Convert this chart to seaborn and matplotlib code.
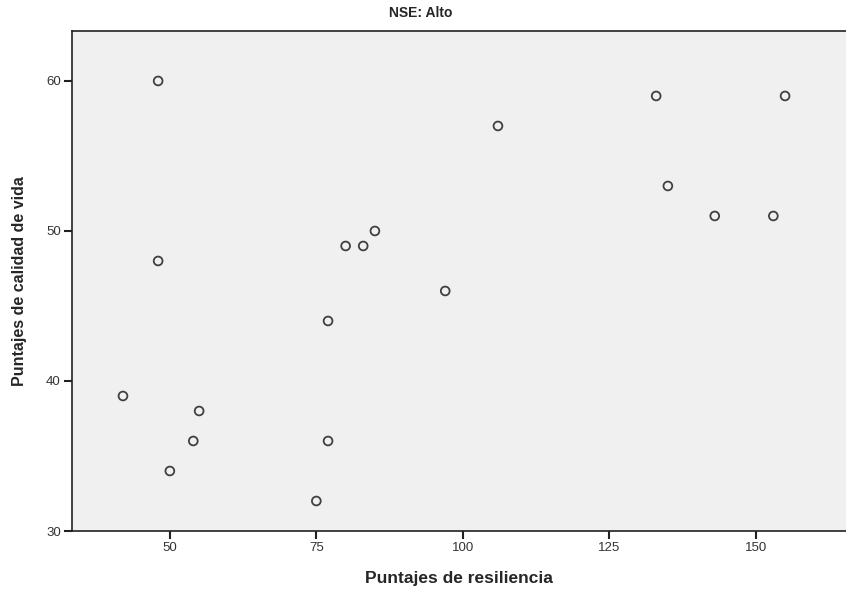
import matplotlib
matplotlib.use('Agg')
import matplotlib.pyplot as plt
import seaborn as sns
import pandas as pd

# 数据：从图中读取
resiliencia = [48, 42, 48, 50, 54, 55, 75, 77, 77, 80, 83, 85, 97, 106, 133, 135, 143, 153, 155]
calidad_vida = [60, 39, 48, 34, 36, 38, 32, 36, 44, 49, 49, 50, 46, 57, 59, 53, 51, 51, 59]
x_ticks = [50, 75, 100, 125, 150]
y_ticks = [30, 40, 50, 60]

df = pd.DataFrame({'resiliencia': resiliencia, 'calidad': calidad_vida})

sns.set_style('ticks')
plt.rcParams['font.family'] = ['Liberation Sans', 'DejaVu Sans']

fig = plt.figure(figsize=(8.46, 5.90), dpi=100)
ax = fig.add_axes([72 / 846, 59 / 590, 1 - 72 / 846, 500 / 590])
ax.set_facecolor('#f0f0f0')

sns.scatterplot(data=df, x='resiliencia', y='calidad', ax=ax, marker='o', s=40,
                linewidth=1.3, edgecolor='#404040', legend=False)
for coll in ax.collections:
    coll.set_facecolor('none')
    coll.set_edgecolor('#404040')

ax.set_xlim(33.3, 165.4)
ax.set_ylim(30, 63.33)
ax.set_xticks(x_ticks)
ax.set_yticks(y_ticks)
ax.tick_params(axis='both', direction='out', length=6, width=1.5, color='#222222',
               labelsize=9.5, labelcolor='#333333', bottom=True, left=True, pad=2)

for side in ['left', 'bottom', 'top']:
    ax.spines[side].set_color('#222222')
    ax.spines[side].set_linewidth(1.2)
ax.spines['right'].set_visible(False)

ax.set_xlabel('Puntajes de resiliencia', fontsize=12.5, fontweight='bold', labelpad=12)
ax.set_ylabel('Puntajes de calidad de vida', fontsize=11.5, fontweight='bold', labelpad=14)
fig.text(0.497, 0.978, 'NSE: Alto', ha='center', va='center', fontsize=10, fontweight='bold')

plt.savefig('out.png', dpi=100)
plt.close()
